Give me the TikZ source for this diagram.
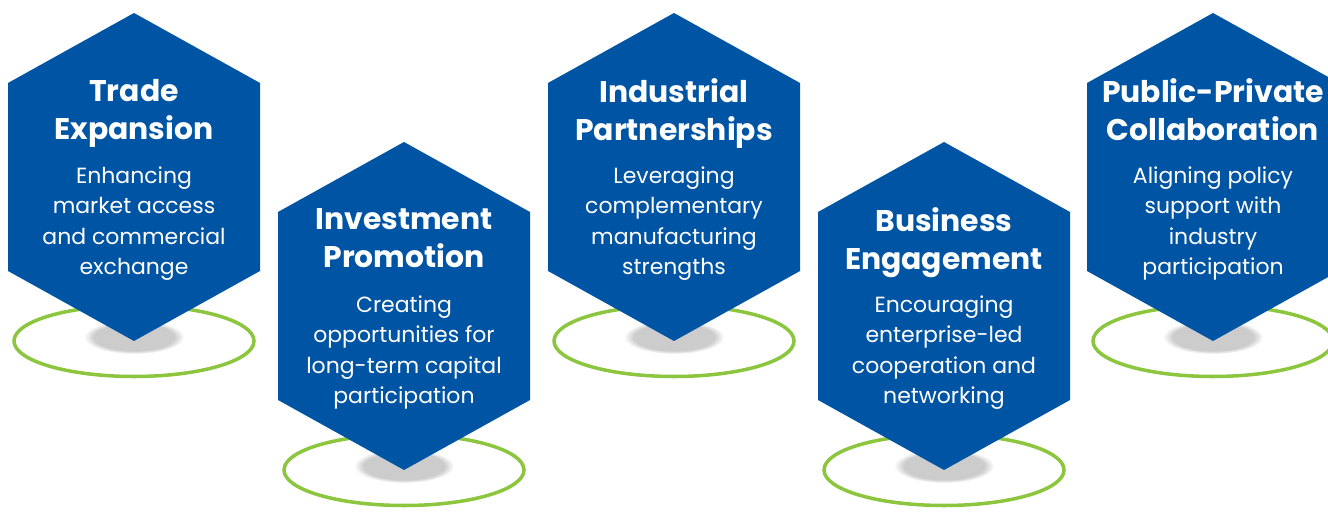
\documentclass[tikz,border=0pt]{standalone}
\usepackage{fontspec}
\setmainfont{Poppins}
\usetikzlibrary{positioning, fadings}
\definecolor{hexblue}{HTML}{0054A4}
\definecolor{ringgreen}{HTML}{8CC63E}

\begin{document}
\begin{tikzpicture}[x=0.02cm, y=-0.02cm,
    hexagon/.style={insert path={++(0,-164) -- ++(126,70) -- ++(0,188) -- ++(-126,70) -- ++(-126,-70) -- ++(0,-188) -- cycle}},
    ring/.style={draw=ringgreen, line width=2pt},
    shadow/.style={fill=gray!40, path fading=circle with fuzzy edge 20 percent},
    title/.style={text=white, align=center, text depth=0.32em, font=\fontsize{17}{21.5}\selectfont\bfseries},
    desc/.style={text=white, align=center, text depth=0.32em, font=\fontsize{12.5}{17.2}\selectfont}]
    \useasboundingbox (0,0) rectangle (1328,516);

    % Hexagon centres
    \coordinate (hex1) at (134,177);
    \coordinate (hex2) at (404,306);
    \coordinate (hex3) at (674,177);
    \coordinate (hex4) at (944,306);
    \coordinate (hex5) at (1213,177);

    % Rings and shadows
    \draw[ring] (134,341) ellipse (120 and 35.5);
    \draw[ring] (404,470) ellipse (120 and 35.5);
    \draw[ring] (674,341) ellipse (120 and 35.5);
    \draw[ring] (944,470) ellipse (120 and 35.5);
    \draw[ring] (1213,341) ellipse (120 and 35.5);
    \fill[shadow] (134,337) ellipse (50 and 17);
    \fill[shadow] (404,466) ellipse (50 and 17);
    \fill[shadow] (674,337) ellipse (50 and 17);
    \fill[shadow] (944,466) ellipse (50 and 17);
    \fill[shadow] (1213,337) ellipse (50 and 17);

    % Hexagons
    \fill[hexblue] (hex1) [hexagon];
    \fill[hexblue] (hex2) [hexagon];
    \fill[hexblue] (hex3) [hexagon];
    \fill[hexblue] (hex4) [hexagon];
    \fill[hexblue] (hex5) [hexagon];

    % Titles
    \node[title] (t1) at (134,112) {Trade\\Expansion};
    \node[title] (t2) at (404,241) {Investment\\Promotion};
    \node[title] (t3) at (674,112) {Industrial\\Partnerships};
    \node[title] (t4) at (944,241) {Business\\Engagement};
    \node[title] (t5) at (1213,112) {Public-Private\\Collaboration};

    % Descriptions
    \node[desc] (d1) at (134,223.5) {Enhancing\\market access\\and commercial\\exchange};
    \node[desc] (d2) at (404,352.5) {Creating\\opportunities for\\long-term capital\\participation};
    \node[desc] (d3) at (674,223.5) {Leveraging\\complementary\\manufacturing\\strengths};
    \node[desc] (d4) at (944,352.5) {Encouraging\\enterprise-led\\cooperation and\\networking};
    \node[desc] (d5) at (1213,223.5) {Aligning policy\\support with\\industry\\participation};
\end{tikzpicture}
\end{document}
